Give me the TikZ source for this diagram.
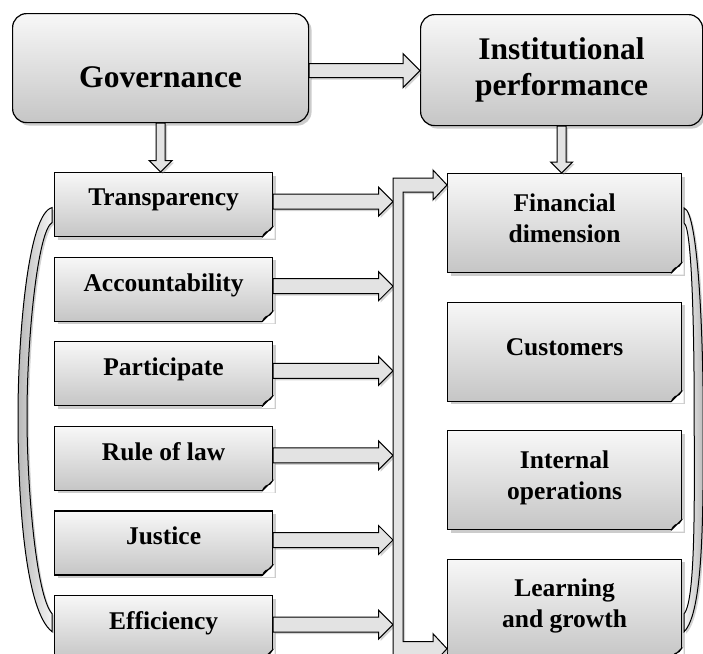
\documentclass[tikz,border=0pt]{standalone}
\usepackage{fontspec}
\setmainfont{Liberation Serif}
\usetikzlibrary{positioning, calc, shadows}
\tikzset{headbox/.style={
    rectangle,
    draw, line width=1.2pt,
    rounded corners=14pt,
    top color=gray!6,
    bottom color=gray!45,
    drop shadow={shadow xshift=3pt, shadow yshift=-3pt, opacity=0.4},
    inner sep=0pt,
    align=center,
    font=\fontsize{31.5}{36}\selectfont\bfseries
}}
\tikzset{plainbox/.style={
    rectangle,
    draw, line width=1.2pt,
    top color=gray!6,
    bottom color=gray!45,
    drop shadow={shadow xshift=3pt, shadow yshift=-3pt, opacity=0.4},
    inner sep=0pt,
    align=center,
    font=\fontsize{25.5}{31}\selectfont\bfseries
}}
\tikzset{itembox/.style={plainbox, minimum width=218pt, minimum height=64pt, text depth=14pt}}
\tikzset{dimbox/.style={plainbox, minimum width=234pt, minimum height=99pt,
    execute at end node={\rule[-10pt]{0pt}{10pt}}}}
\tikzset{blockarr/.style={
    draw, line width=1pt, line join=miter,
    fill=gray!22,
    drop shadow={shadow xshift=2pt, shadow yshift=-2pt, opacity=0.35}
}}
\tikzset{bracket/.style={
    draw, line width=1pt,
    drop shadow={shadow xshift=2pt, shadow yshift=-2pt, opacity=0.35}
}}
% block arrows: start, end, shaft half width, head half width
\newcommand{\harrow}[4]{%
  \path[blockarr] let \p1=#1, \p2=#2 in
    (\x1,{\y1-#3}) -- ({\x2-#4},{\y1-#3}) -- ({\x2-#4},{\y1-#4}) -- (\x2,\y1)
    -- ({\x2-#4},{\y1+#4}) -- ({\x2-#4},{\y1+#3}) -- (\x1,{\y1+#3}) -- cycle;}
\newcommand{\varrow}[4]{%
  \path[blockarr] let \p1=#1, \p2=#2 in
    ({\x1-#3},\y1) -- ({\x1-#3},{\y2+#4}) -- ({\x1-#4},{\y2+#4}) -- (\x1,\y2)
    -- ({\x1+#4},{\y2+#4}) -- ({\x1+#3},{\y2+#4}) -- ({\x1+#3},\y1) -- cycle;}
% folded corner
\newcommand{\pagefold}[1]{%
  \fill[white] ($(#1.south east)+(1.5,-1.5)$) -- ($(#1.south east)+(-11,-1.5)$)
    -- ($(#1.south east)+(-11,0)$) -- ($(#1.south east)+(0,11)$)
    -- ($(#1.south east)+(1.5,11)$) -- cycle;
  \draw[line width=1pt, fill=gray!20, line join=round] ($(#1.south east)+(-11,0)$)
    .. controls +(2,5) and +(-3,-1) .. ($(#1.south east)+(-3,7)$)
    -- ($(#1.south east)+(0,11)$) -- cycle;}

\begin{document}
\begin{tikzpicture}[x=1pt, y=1pt]
    \useasboundingbox (0,0) rectangle (703,-653);
    % Top row
    \node (gov)  [headbox, minimum width=296pt, minimum height=109pt, text height=39pt, anchor=north west] at (12,-13) {Governance};
    \node (inst) [headbox, minimum width=282pt, minimum height=111pt, anchor=north west] at (420,-14) {Institutional\\performance};
    % Left column
    \node (transp)  [itembox, anchor=north west] at (54,-172) {Transparency};
    \node (account) [itembox, below=19.4pt of transp]  {Accountability};
    \node (partic)  [itembox, below=19.4pt of account] {Participate};
    \node (rule)    [itembox, below=19.4pt of partic]  {Rule of law};
    \node (justice) [itembox, below=19.4pt of rule]    {Justice};
    \node (effic)   [itembox, below=19.4pt of justice] {Efficiency};
    % Right column
    \node (fin)    [dimbox, anchor=north west] at (447,-173) {Financial\\dimension};
    \node (cust)   [dimbox, below=28.3pt of fin]  {Customers};
    \node (intops) [dimbox, below=28.3pt of cust] {Internal\\operations};
    \node (learn)  [dimbox, below=28.3pt of intops] {Learning\\and growth};
    \foreach \b in {transp,account,partic,rule,justice,effic,fin,cust,intops,learn}
        \pagefold{\b};
    \coordinate (bus) at (393,-178);
    % Arrows
    \harrow{($(gov.east)+(0,-2.5)$)}{(inst.west)}{7pt}{17pt};
    \varrow{(gov.south)}{(transp.north)}{4.5pt}{11.5pt};
    \varrow{(inst.south)}{(fin.north)}{4.5pt}{11pt};
    \foreach \b in {transp,account,partic,rule,justice,effic}
        \harrow{($(\b.east)+(0,3)$)}{(bus)}{7.5pt}{14.5pt};
    \path[blockarr] let \p1=(bus), \p2=($(fin.north west)+(0,-12)$), \p3=($(learn.south west)+(0,10)$) in
        (\x1,{\y2+7pt}) -- ({\x2-14pt},{\y2+7pt}) -- ({\x2-14pt},{\y2+15pt}) -- (\x2,\y2)
        -- ({\x2-14pt},{\y2-15pt}) -- ({\x2-14pt},{\y2-7pt}) -- ({\x1+10pt},{\y2-7pt})
        -- ({\x1+10pt},{\y3+7pt}) -- ({\x2-14pt},{\y3+7pt}) -- ({\x2-14pt},{\y3+15pt}) -- (\x3,\y3)
        -- ({\x2-14pt},{\y3-15pt}) -- ({\x2-14pt},{\y3-7pt}) -- (\x1,{\y3-7pt}) -- cycle;
    % Brackets
    \path[bracket, left color=gray!55, right color=gray!8]
        ($(transp.west)+(-2,-3)$) .. controls +(-24,-6) and +(0,80) .. ($(transp.west)!0.5!(effic.west)+(-36,0)$)
        .. controls +(0,-90) and +(-26,20) .. ($(effic.west)+(-2,-4)$)
        -- ($(effic.west)+(-2,14)$)
        .. controls +(-16,18) and +(0,-70) .. ($(transp.west)!0.5!(effic.west)+(-27,0)$)
        .. controls +(0,80) and +(-14,-8) .. ($(transp.west)+(-2,-18)$) -- cycle;
    \path[bracket, left color=gray!8, right color=gray!55]
        ($(fin.east)+(2,15)$) .. controls +(14,-4) and +(0,80) .. ($(fin.east)!0.5!(learn.east)+(21,0)$)
        .. controls +(0,-90) and +(20,20) .. ($(learn.east)+(2,-23)$)
        -- ($(learn.east)+(2,-5)$)
        .. controls +(12,14) and +(0,-70) .. ($(fin.east)!0.5!(learn.east)+(12,0)$)
        .. controls +(0,80) and +(8,-6) .. ($(fin.east)+(2,0)$) -- cycle;
\end{tikzpicture}
\end{document}
